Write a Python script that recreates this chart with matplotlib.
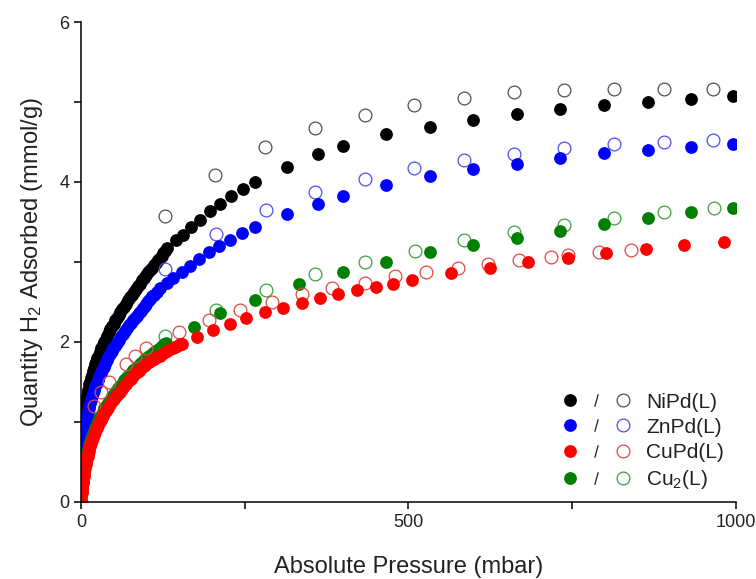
import matplotlib
matplotlib.use("Agg")
import matplotlib.pyplot as plt
from matplotlib.lines import Line2D
from matplotlib.legend_handler import HandlerTuple
from matplotlib.ticker import MultipleLocator

plt.rcParams['font.family'] = ['Liberation Sans', 'DejaVu Sans']
plt.rcParams['mathtext.fontset'] = 'custom'
plt.rcParams['mathtext.rm'] = 'Liberation Sans'
plt.rcParams['mathtext.it'] = 'Liberation Sans:italic'

# NiPd(L) - adsorption (filled) and desorption (open)
ni_ads_p = [0, 0.5, 1, 1.5, 2, 2.5, 3, 3.5, 4, 5, 6, 7, 8, 9, 10, 11, 12, 13, 14, 15.5,
            17, 18.5, 20, 21.5, 23, 25, 27, 29, 31, 33, 35, 37.5, 40, 42.5, 45, 47.5,
            50, 52.5, 55, 57.5, 60, 63, 66, 69, 72, 75, 78, 81, 84, 87, 90, 93, 96, 99,
            102, 105, 108, 111, 114, 117, 120, 123, 126, 129, 132, 145, 156, 168, 182,
            197, 212, 229, 247, 266, 314, 362, 400, 466, 533, 599, 665, 731, 798, 865,
            931, 996]
ni_ads_q = [0.68, 0.76, 0.82, 0.87, 0.92, 0.96, 1.0, 1.04, 1.07, 1.13, 1.18, 1.23, 1.28,
            1.32, 1.36, 1.4, 1.43, 1.47, 1.5, 1.55, 1.59, 1.64, 1.68, 1.72, 1.75, 1.8,
            1.84, 1.88, 1.92, 1.96, 2.0, 2.04, 2.08, 2.12, 2.16, 2.2, 2.23, 2.27, 2.3,
            2.34, 2.37, 2.41, 2.44, 2.48, 2.52, 2.56, 2.59, 2.63, 2.66, 2.7, 2.73, 2.77,
            2.8, 2.84, 2.87, 2.9, 2.93, 2.96, 2.99, 3.02, 3.05, 3.08, 3.11, 3.14, 3.17,
            3.28, 3.34, 3.44, 3.53, 3.64, 3.73, 3.83, 3.91, 4.0, 4.19, 4.35, 4.45, 4.6,
            4.69, 4.78, 4.85, 4.91, 4.96, 5.0, 5.04, 5.07]
ni_des_p = [128, 205, 281, 357, 433, 509, 585, 661, 737, 814, 890, 965]
ni_des_q = [3.57, 4.09, 4.44, 4.67, 4.84, 4.96, 5.05, 5.12, 5.15, 5.16, 5.16, 5.16]

# ZnPd(L)
zn_ads_p = [0, 0.5, 1, 1.5, 2, 2.5, 3, 3.5, 4, 5, 6, 7, 8, 9, 10, 11, 12, 13, 14, 15.5,
            17, 18.5, 20, 22, 24, 26, 28, 30, 32, 34.5, 37, 39.5, 42, 44.5, 47, 49.5,
            52, 55, 58, 61, 64, 67, 70, 73, 76, 79, 82, 85, 88, 91, 94, 97, 100, 103,
            106, 109, 112, 116, 121, 131, 141, 154, 166, 180, 196, 211, 227, 246, 266,
            314, 362, 400, 466, 533, 599, 665, 731, 798, 865, 931, 996]
zn_ads_q = [0.45, 0.52, 0.58, 0.63, 0.67, 0.71, 0.75, 0.79, 0.82, 0.88, 0.93, 0.98, 1.02,
            1.06, 1.1, 1.14, 1.17, 1.21, 1.24, 1.28, 1.32, 1.36, 1.4, 1.45, 1.49, 1.53,
            1.57, 1.61, 1.65, 1.69, 1.73, 1.77, 1.81, 1.85, 1.89, 1.92, 1.95, 1.99, 2.03,
            2.07, 2.1, 2.14, 2.17, 2.21, 2.24, 2.27, 2.3, 2.33, 2.36, 2.39, 2.42, 2.45,
            2.48, 2.51, 2.54, 2.57, 2.59, 2.63, 2.67, 2.74, 2.8, 2.88, 2.95, 3.04, 3.13,
            3.2, 3.27, 3.36, 3.44, 3.6, 3.73, 3.83, 3.96, 4.07, 4.16, 4.23, 4.3, 4.36,
            4.4, 4.44, 4.47]
zn_des_p = [129, 206, 282, 357, 433, 509, 585, 661, 737, 814, 890, 965]
zn_des_q = [2.91, 3.35, 3.65, 3.87, 4.04, 4.17, 4.27, 4.35, 4.42, 4.47, 4.5, 4.53]

# CuPd(L)
cupd_ads_p = [0, 0.5, 1, 1.5, 2, 2.5, 3, 3.5, 4, 5, 6, 7, 8, 9, 10, 11, 12, 13, 14, 15.5,
              17, 18.5, 20, 22, 24, 26, 28, 30.5, 33, 35.5, 38, 41, 44, 47, 50, 53, 56,
              59, 62, 65.5, 69, 72.5, 76, 80, 84, 88, 92, 96, 100, 104, 108, 112, 116,
              120, 124, 128, 132, 136, 140, 144, 147, 151, 154, 177, 201, 227, 252, 281,
              309, 337, 365, 393, 421, 450, 477, 506, 565, 624, 683, 743, 802, 862, 921,
              981]
cupd_ads_q = [0.03, 0.08, 0.12, 0.16, 0.2, 0.24, 0.27, 0.3, 0.33, 0.38, 0.43, 0.47, 0.51,
              0.55, 0.58, 0.61, 0.64, 0.67, 0.7, 0.74, 0.77, 0.81, 0.84, 0.88, 0.92, 0.96,
              0.99, 1.03, 1.07, 1.11, 1.14, 1.18, 1.22, 1.26, 1.29, 1.32, 1.35, 1.38, 1.41,
              1.45, 1.48, 1.51, 1.54, 1.58, 1.61, 1.64, 1.67, 1.7, 1.72, 1.75, 1.77, 1.79,
              1.81, 1.83, 1.85, 1.87, 1.89, 1.91, 1.93, 1.94, 1.95, 1.97, 1.98, 2.06, 2.15,
              2.23, 2.3, 2.37, 2.43, 2.49, 2.55, 2.6, 2.65, 2.69, 2.73, 2.78, 2.86, 2.93,
              3.0, 3.05, 3.11, 3.16, 3.21, 3.25]
cupd_des_p = [20, 30, 43, 69, 82, 100, 149, 195, 243, 291, 338, 384, 434, 480, 527, 576,
              622, 669, 717, 744, 791, 840]
cupd_des_q = [1.2, 1.37, 1.5, 1.73, 1.82, 1.92, 2.13, 2.28, 2.4, 2.5, 2.6, 2.67, 2.74,
              2.82, 2.87, 2.92, 2.98, 3.02, 3.06, 3.09, 3.12, 3.15]

# Cu2(L)
cu2_ads_p = [0, 0.5, 1, 1.5, 2, 2.5, 3, 3.5, 4, 5, 6, 7, 8, 9, 10, 11, 12, 13, 14, 15.5,
             17, 18.5, 20, 22, 24, 26, 28, 30.5, 33, 35.5, 38, 41, 44, 47, 50, 53, 56,
             59, 62, 65.5, 69, 72.5, 76, 80, 84, 88, 92, 96, 100, 104, 108, 112, 116,
             120, 124, 127, 130, 173, 212, 266, 333, 400, 466, 533, 599, 665, 732, 798,
             865, 931, 996]
cu2_ads_q = [0.0, 0.07, 0.12, 0.17, 0.22, 0.26, 0.3, 0.33, 0.36, 0.42, 0.47, 0.51, 0.55,
             0.59, 0.62, 0.66, 0.69, 0.72, 0.75, 0.79, 0.82, 0.86, 0.89, 0.93, 0.97, 1.01,
             1.05, 1.09, 1.13, 1.17, 1.2, 1.24, 1.28, 1.32, 1.35, 1.39, 1.42, 1.45, 1.48,
             1.52, 1.55, 1.58, 1.61, 1.65, 1.68, 1.71, 1.74, 1.77, 1.8, 1.83, 1.85, 1.88,
             1.9, 1.93, 1.95, 1.97, 1.99, 2.19, 2.36, 2.53, 2.72, 2.87, 3.0, 3.12, 3.21,
             3.3, 3.39, 3.47, 3.55, 3.62, 3.68]
cu2_des_p = [129, 206, 282, 358, 434, 510, 585, 661, 738, 814, 890, 966]
cu2_des_q = [2.07, 2.4, 2.65, 2.85, 3.0, 3.14, 3.27, 3.38, 3.46, 3.55, 3.62, 3.68]

labels = ['NiPd(L)', 'ZnPd(L)', 'CuPd(L)', 'Cu$_2$(L)']
fill_colors = ['#000000', '#0000ff', '#ff0000', '#008000']
open_colors = ['#505050', '#5050e8', '#e04848', '#40a040']

series = {
    'NiPd(L)': (ni_ads_p, ni_ads_q, ni_des_p, ni_des_q),
    'ZnPd(L)': (zn_ads_p, zn_ads_q, zn_des_p, zn_des_q),
    'CuPd(L)': (cupd_ads_p, cupd_ads_q, cupd_des_p, cupd_des_q),
    'Cu$_2$(L)': (cu2_ads_p, cu2_ads_q, cu2_des_p, cu2_des_q),
}

ms = 9.2
fig = plt.figure(figsize=(7.56, 5.79), dpi=100)
ax = fig.add_axes([0.1071, 0.133, 0.8664, 0.829])

# red drawn last so it sits over green in the dense region
order = [0, 1, 3, 2]
for i in order:
    lab = labels[i]
    ap, aq, dp, dq = series[lab]
    ax.plot(dp, dq, ls='none', marker='o', ms=ms, mfc='none', mec=open_colors[i], mew=0.9)
    ax.plot(ap, aq, ls='none', marker='o', ms=ms, mfc=fill_colors[i], mec=fill_colors[i], mew=0)

ax.set_xlim(0, 1000)
ax.set_ylim(0, 6)
ax.xaxis.set_major_locator(MultipleLocator(500))
ax.xaxis.set_minor_locator(MultipleLocator(250))
ax.yaxis.set_major_locator(MultipleLocator(2))
ax.yaxis.set_minor_locator(MultipleLocator(1))
ax.spines['top'].set_visible(False)
ax.spines['right'].set_visible(False)
for s in ['left', 'bottom']:
    ax.spines[s].set_linewidth(1.1)
ax.tick_params(which='both', direction='out', width=1.1, length=5, labelsize=13,
               labelcolor='#222222')
ax.set_xlabel('Absolute Pressure (mbar)', fontsize=17, labelpad=18, color='#222222')
ax.set_ylabel('Quantity H$_2$ Adsorbed (mmol/g)', fontsize=17, labelpad=10, color='#222222')

handles = []
for i in range(4):
    h_fill = Line2D([], [], ls='none', marker='o', ms=ms, mfc=fill_colors[i], mec=fill_colors[i], mew=0)
    h_slash = Line2D([], [], ls='none', marker='$/$', ms=9, color='#222222', mew=0)
    h_open = Line2D([], [], ls='none', marker='o', ms=ms, mfc='none', mec=open_colors[i], mew=0.9)
    handles.append((h_fill, h_slash, h_open))

ax.legend(handles, labels, handler_map={tuple: HandlerTuple(ndivide=None, pad=0.6)},
          loc='lower right', bbox_to_anchor=(0.995, 0.005), frameon=False, fontsize=15,
          handlelength=3.2, handletextpad=0.8, labelspacing=0.3, borderaxespad=0,
          labelcolor='#222222')

fig.savefig('out.png', dpi=100, facecolor='white')
